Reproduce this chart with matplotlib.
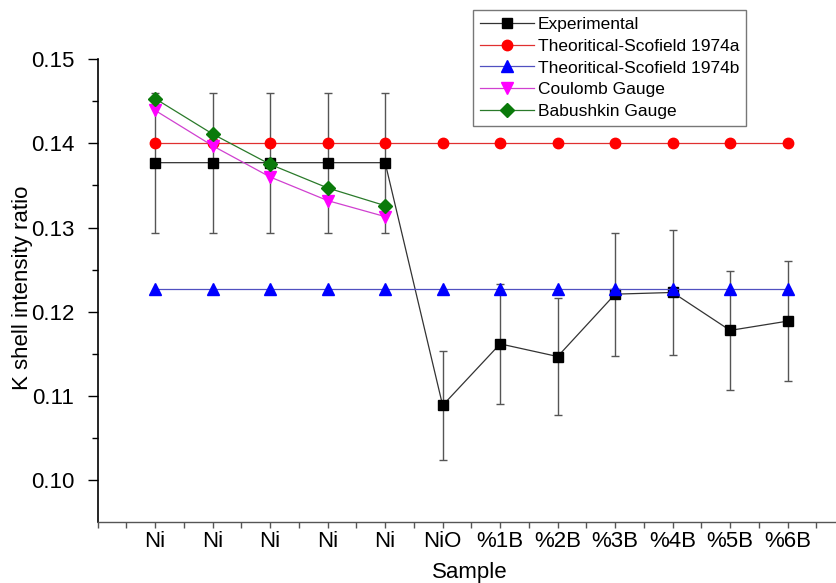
import numpy as np
import matplotlib
matplotlib.use('Agg')
import matplotlib.pyplot as plt
from matplotlib.ticker import MultipleLocator

plt.rcParams['font.family'] = ['Liberation Sans', 'DejaVu Sans']

# data
samples = ['Ni', 'Ni', 'Ni', 'Ni', 'Ni', 'NiO', '%1B', '%2B', '%3B', '%4B', '%5B', '%6B']
experimental = [0.1377, 0.1377, 0.1377, 0.1377, 0.1377, 0.1089,
                0.1162, 0.1147, 0.1221, 0.1223, 0.1178, 0.1189]
exp_err = [0.0083, 0.0083, 0.0083, 0.0083, 0.0083, 0.0065,
           0.0071, 0.0069, 0.0073, 0.0074, 0.0071, 0.0071]
scofield_a = [0.140] * 12
scofield_b = [0.1227] * 12
coulomb = [0.1439, 0.1397, 0.1360, 0.1332, 0.1313]
babushkin = [0.1453, 0.1411, 0.1375, 0.1347, 0.1326]

x = np.arange(1, len(samples) + 1)
x_ni = x[:len(coulomb)]

fig = plt.figure(figsize=(8.37, 5.83), dpi=100)
ax = fig.add_axes([0.1167, 0.1051, 0.893, 0.7937])

ax.errorbar(x, experimental, yerr=exp_err, fmt='none', ecolor='#555555',
            elinewidth=1.0, capsize=3, capthick=1.0, zorder=1)
ax.plot(x, experimental, '-', color='#333333', lw=0.9, marker='s', ms=7.5,
        mfc='black', mec='black', label='Experimental', zorder=2)
ax.plot(x, scofield_a, '-', color='#e03030', lw=0.9, marker='o', ms=7.5,
        mfc='#ff0000', mec='#ff0000', label='Theoritical-Scofield 1974a', zorder=3)
ax.plot(x, scofield_b, '-', color='#5050c0', lw=0.9, marker='^', ms=8.5,
        mfc='#0000ff', mec='#0000ff', label='Theoritical-Scofield 1974b', zorder=4)
ax.plot(x_ni, coulomb, '-', color='#d040d0', lw=0.9, marker='v', ms=8.5,
        mfc='#ff00ff', mec='#ff00ff', label='Coulomb Gauge', zorder=5)
ax.plot(x_ni, babushkin, '-', color='#2a7a2a', lw=0.9, marker='D', ms=7,
        mfc='#0a7a0a', mec='#0a7a0a', label='Babushkin Gauge', zorder=6)

ax.set_xlim(0, 13)
ax.set_ylim(0.0951, 0.15)
ax.set_xticks(x)
ax.set_xticklabels(samples)
ax.xaxis.set_minor_locator(MultipleLocator(0.5))
ax.yaxis.set_major_locator(MultipleLocator(0.01))
ax.yaxis.set_minor_locator(MultipleLocator(0.005))
ax.yaxis.set_major_formatter(matplotlib.ticker.FormatStrFormatter('%.2f'))

for s in ['top', 'right']:
    ax.spines[s].set_visible(False)
ax.spines['left'].set_linewidth(1.2)
ax.spines['bottom'].set_linewidth(1.0)
ax.spines['bottom'].set_color('#555555')

ax.tick_params(axis='y', which='major', length=7, width=1.0, labelsize=16, pad=10)
ax.tick_params(axis='y', which='minor', length=4, width=1.0)
ax.tick_params(axis='x', which='both', length=4, width=1.0, color='#555555',
               labelsize=16, pad=3)

ax.set_ylabel('K shell intensity ratio', fontsize=16)
ax.yaxis.set_label_coords(-0.087, 0.506)
ax.set_xlabel('Sample', fontsize=16)
ax.xaxis.set_label_coords(0.498, -0.086)

leg = fig.legend(loc='upper left', bbox_to_anchor=(0.565, 0.983), fontsize=12.5,
                 frameon=True, fancybox=False, edgecolor='#555555',
                 handlelength=3.1, handletextpad=0.25, labelspacing=0.38,
                 borderpad=0.4, borderaxespad=0)
leg.get_frame().set_linewidth(1.0)

fig.savefig('out.png', dpi=100)
